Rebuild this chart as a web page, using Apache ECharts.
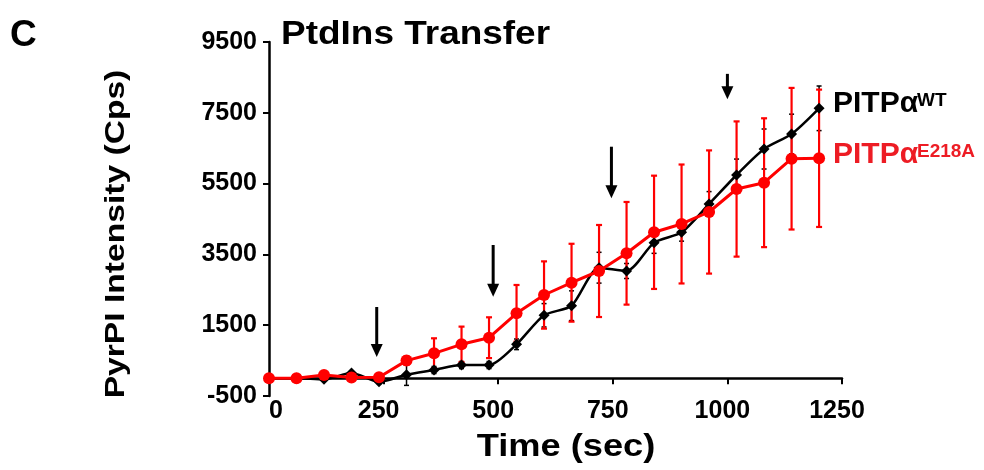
<!DOCTYPE html>
<html>
<head>
<meta charset="utf-8">
<script src="https://cdn.jsdelivr.net/npm/echarts@6/dist/echarts.min.js"></script>
<style>
html,body{margin:0;padding:0;background:#fff;}
#c{width:984px;height:470px;}
</style>
</head>
<body>
<div id="c"></div>
<script>
// ---- data ----
const times = [0,60,120,180,240,300,360,420,480,540,600,660,720,780,840,900,960,1020,1080,1140,1200];
const wtValues   = [0,0,-30,150,-100,100,234,375,375,960,1780,2051,3124,3031,3830,4124,4924,5743,6477,6901,7627];
const wtErrors   = [20,20,30,40,50,300,100,100,100,150,330,420,435,212,300,250,350,450,565,560,630];
const mutValues  = [0,0,90,20,30,500,706,960,1147,1836,2353,2700,3031,3531,4124,4359,4698,5347,5525,6203,6215];
const mutErrors  = [20,20,30,30,40,120,424,500,576,800,950,1100,1300,1450,1600,1680,1740,1910,1820,2000,1940];
const arrowTimes = [235,489,747,1000];
const arrowTops  = [2014,3766,6542,8600];
const arrowTips  = [600,2305,5085,7881];
const xTicks = {min:0, max:1250, interval:250};
const yTicks = {min:-500, max:9500, interval:2000};

const FONT = '"Liberation Sans", Arial, Helvetica, sans-serif';
const RED = '#ff0000';

function errData(vals, errs){
  return times.map((t,i)=>[t, vals[i]-errs[i], vals[i]+errs[i]]);
}
function errRenderer(color, lw, cap){
  return function(params, api){
    const x = api.value(0);
    const lo = api.coord([x, api.value(1)]);
    const hi = api.coord([x, api.value(2)]);
    const st = {stroke: color, lineWidth: lw};
    return {type:'group', children:[
      {type:'line', shape:{x1:lo[0], y1:lo[1], x2:hi[0], y2:hi[1]}, style:st},
      {type:'line', shape:{x1:lo[0]-cap, y1:lo[1], x2:lo[0]+cap, y2:lo[1]}, style:st},
      {type:'line', shape:{x1:hi[0]-cap, y1:hi[1], x2:hi[0]+cap, y2:hi[1]}, style:st}
    ]};
  };
}
function arrowRenderer(params, api){
  const t = api.value(0);
  const top = api.coord([t, api.value(1)]);
  const tip = api.coord([t, api.value(2)]);
  const hw = 6, hh = 13;
  return {type:'group', children:[
    {type:'line', shape:{x1:top[0], y1:top[1], x2:tip[0], y2:tip[1]-hh+2}, style:{stroke:'#000', lineWidth:3}},
    {type:'polygon', shape:{points:[[tip[0]-hw, tip[1]-hh],[tip[0]+hw, tip[1]-hh],[tip[0], tip[1]]]}, style:{fill:'#000'}}
  ]};
}
const plain = v => String(v);

const chart = echarts.init(document.getElementById('c'), null, {renderer:'canvas'});
const option = {
  animation:false,
  backgroundColor:'#fff',
  grid:{left:269, top:42, width:573, height:354, containLabel:false},
  xAxis:[
    {type:'value', min:xTicks.min, max:xTicks.max, interval:xTicks.interval, position:'bottom',
     axisLine:{show:true, onZero:true, lineStyle:{color:'#000', width:2.5}},
     axisTick:{show:true, inside:false, length:6, lineStyle:{color:'#000', width:2}},
     axisLabel:{show:false}, splitLine:{show:false}},
    {type:'value', min:xTicks.min, max:xTicks.max, interval:xTicks.interval, position:'bottom',
     axisLine:{show:false, onZero:false}, axisTick:{show:false}, splitLine:{show:false},
     axisLabel:{show:true, color:'#000', fontFamily:FONT, fontWeight:'bold', fontSize:25, margin:3,
                padding:[0,10,0,0], alignMinLabel:'left', formatter:plain}}
  ],
  yAxis:[
    {type:'value', min:yTicks.min, max:yTicks.max, interval:yTicks.interval,
     axisLine:{show:true, onZero:true, lineStyle:{color:'#000', width:2.5}},
     axisTick:{show:true, inside:false, length:6, lineStyle:{color:'#000', width:2}},
     axisLabel:{show:true, color:'#000', fontFamily:FONT, fontWeight:'bold', fontSize:25, margin:12, formatter:plain},
     splitLine:{show:false}}
  ],
  series:[
    {type:'custom', name:'wtErr', xAxisIndex:0, yAxisIndex:0, z:1, silent:true,
     renderItem:errRenderer('#000',1.5,2.5), encode:{x:0, y:[1,2]}, data:errData(wtValues, wtErrors)},
    {type:'custom', name:'mutErr', xAxisIndex:0, yAxisIndex:0, z:2, silent:true,
     renderItem:errRenderer(RED,2.2,3), encode:{x:0, y:[1,2]}, data:errData(mutValues, mutErrors)},
    {type:'line', name:'PITPα WT', xAxisIndex:0, yAxisIndex:0, z:3,
     data:times.map((t,i)=>[t, wtValues[i]]), smooth:0.25,
     symbol:'diamond', symbolSize:11, showSymbol:true,
     itemStyle:{color:'#000'}, lineStyle:{color:'#000', width:2.5}},
    {type:'line', name:'PITPα E218A', xAxisIndex:0, yAxisIndex:0, z:4,
     data:times.map((t,i)=>[t, mutValues[i]]),
     symbol:'circle', symbolSize:12, showSymbol:true,
     itemStyle:{color:RED}, lineStyle:{color:RED, width:3}},
    {type:'custom', name:'arrows', xAxisIndex:0, yAxisIndex:0, z:5, silent:true,
     renderItem:arrowRenderer, encode:{x:0, y:[1,2]},
     data:arrowTimes.map((t,i)=>[t, arrowTops[i], arrowTips[i]])}
  ],
  graphic:[
    {type:'text', x:10, y:17, style:{text:'C', font:'bold 37px '+FONT, fill:'#000', textAlign:'left', textVerticalAlign:'top'}},
    {type:'text', x:281, y:18, scaleX:1.12, style:{text:'PtdIns Transfer', font:'bold 33px '+FONT, fill:'#000', textAlign:'left', textVerticalAlign:'top'}},
    {type:'text', x:116, y:234, rotation:Math.PI/2, scaleX:1.2, style:{text:'PyrPI Intensity (Cps)', font:'bold 28px '+FONT, fill:'#000', textAlign:'center', textVerticalAlign:'middle'}},
    {type:'text', x:566, y:447, scaleX:1.17, style:{text:'Time (sec)', font:'bold 31px '+FONT, fill:'#000', textAlign:'center', textVerticalAlign:'middle'}},
    {type:'text', x:833, y:89, style:{text:'PITPα', font:'bold 30px '+FONT, fill:'#000', textAlign:'left', textVerticalAlign:'top'}},
    {type:'text', x:917, y:91, style:{text:'WT', font:'bold 19px '+FONT, fill:'#000', textAlign:'left', textVerticalAlign:'top'}},
    {type:'text', x:833, y:140, style:{text:'PITPα', font:'bold 30px '+FONT, fill:'#ED1C24', textAlign:'left', textVerticalAlign:'top'}},
    {type:'text', x:917, y:142, style:{text:'E218A', font:'bold 19px '+FONT, fill:'#ED1C24', textAlign:'left', textVerticalAlign:'top'}}
  ]
};
chart.setOption(option);
</script>
</body>
</html>
